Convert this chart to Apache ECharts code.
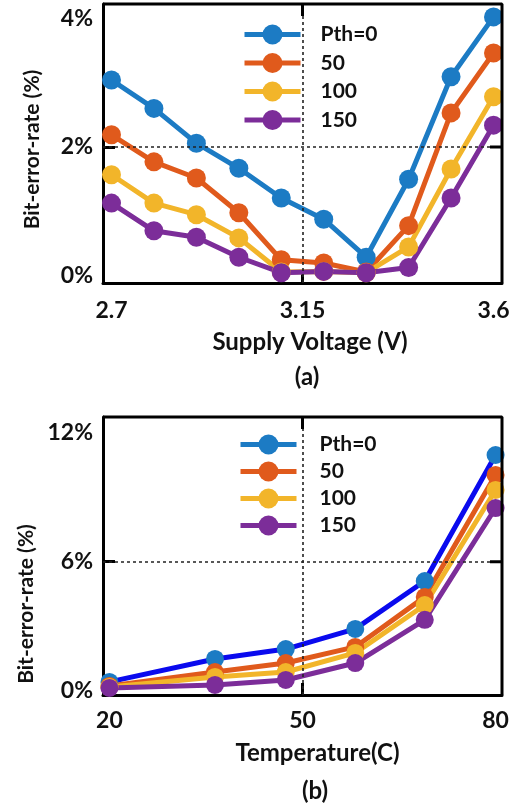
<!DOCTYPE html>
<html>
<head>
<meta charset="utf-8">
<script src="https://cdn.jsdelivr.net/npm/echarts@6/dist/echarts.min.js"></script>
<style>html,body{margin:0;padding:0;background:#fff;overflow:hidden}#c{width:526px;height:808px}</style>
</head>
<body>
<div id="c"></div>
<script>
// ---- data (a): supply voltage ----
const voltage = [2.7, 2.8, 2.9, 3.0, 3.1, 3.2, 3.3, 3.4, 3.5, 3.6];
const berV_0   = [3.04, 2.60, 2.06, 1.67, 1.21, 0.88, 0.29, 1.50, 3.09, 4.02];
const berV_50  = [2.19, 1.77, 1.52, 0.98, 0.25, 0.20, 0.06, 0.78, 2.53, 3.46];
const berV_100 = [1.57, 1.13, 0.95, 0.59, 0.06, 0.07, 0.05, 0.45, 1.66, 2.78];
const berV_150 = [1.13, 0.70, 0.60, 0.29, 0.05, 0.07, 0.05, 0.13, 1.21, 2.34];
const voltTicks = [2.7, 3.15, 3.6];
const berVTicks = [0, 2, 4];
// ---- data (b): temperature ----
const temperature = [20, 36.4, 47.4, 58.2, 69, 80];
const berT_0   = [0.40, 1.47, 1.93, 2.87, 5.10, 10.97];
const berT_50  = [0.21, 0.86, 1.28, 2.03, 4.36, 10.04];
const berT_100 = [0.16, 0.63, 0.86, 1.75, 3.98, 9.34];
const berT_150 = [0.12, 0.26, 0.49, 1.28, 3.29, 8.50];
const tempTicks = [20, 50, 80];
const berTTicks = [0, 6, 12];
const names = ['Pth=0', '50', '100', '150'];

const colors = ['#1c7bc4', '#e05a1c', '#f2b52a', '#7c2d99'];
const FONT = 'Lato';
const lblStyle = () => ({fontFamily: FONT, fontWeight: 'bold', fontSize: 23, color: '#111'});

function zip(xs, ys) { return xs.map((x, i) => [x, ys[i]]); }

const tickStyle = (v) => ({show: true, inside: true, length: 12, customValues: [v], lineStyle: {color: '#000', width: 3}});
const axLine = () => ({show: true, onZero: false, lineStyle: {color: '#000', width: 3}});

// axis ranges and guide positions; inner tick length as a fraction of each axis span
const ranges = [
  {x: [2.68, 3.62], y: [-0.11, 4.22], gx: 3.15, gy: 2, tx: 12 / 399, ty: 12 / 279},
  {x: [19, 81], y: [-0.21, 12.74], gx: 50, gy: 6, tx: 12 / 399, ty: 12 / 278}
];

function xAxis(gi, ticks, name, namePad, margin, nameGap) {
  const r = ranges[gi];
  return {
    type: 'value', gridIndex: gi, min: r.x[0], max: r.x[1], position: 'bottom',
    axisLine: axLine(),
    axisTick: tickStyle(r.gx),
    axisLabel: Object.assign({customValues: ticks, margin: margin}, lblStyle()),
    splitLine: {show: false},
    name: name, nameLocation: 'middle', nameGap: nameGap,
    nameTextStyle: {fontFamily: FONT, fontWeight: 'bold', fontSize: 24, color: '#111', padding: namePad}
  };
}
function yAxis(gi, ticks, namePad) {
  const r = ranges[gi];
  return {
    type: 'value', gridIndex: gi, min: r.y[0], max: r.y[1], position: 'left',
    axisLine: axLine(),
    axisTick: tickStyle(r.gy),
    axisLabel: Object.assign({customValues: ticks, margin: 10, formatter: v => v + '%'}, lblStyle()),
    splitLine: {show: false},
    name: 'Bit-error-rate (%)', nameLocation: 'middle', nameGap: 60,
    nameTextStyle: {fontFamily: FONT, fontWeight: 'bold', fontSize: 21, color: '#111', padding: namePad}
  };
}

function guide(axi) {
  const r = ranges[axi];
  return {
    type: 'line', xAxisIndex: axi, yAxisIndex: axi, data: [], silent: true, z: 1,
    markLine: {
      silent: true, symbol: 'none', label: {show: false},
      lineStyle: {color: '#222', type: [3, 3], width: 1.6},
      data: [{xAxis: r.gx}, {yAxis: r.gy}]
    }
  };
}
// top/right frame edges plus mirrored inner ticks, drawn through the axes' scales
function frameSeries(axi) {
  const r = ranges[axi];
  const base = {type: 'line', xAxisIndex: axi, yAxisIndex: axi, silent: true, clip: false,
    symbol: 'none', z: 5, lineStyle: {color: '#000', width: 3}, emphasis: {disabled: true}};
  const dy = (r.y[1] - r.y[0]) * r.ty, dx = (r.x[1] - r.x[0]) * r.tx;
  return [
    Object.assign({}, base, {data: [[r.x[0], r.y[1]], [r.x[1], r.y[1]], [r.x[1], r.y[0]]]}),
    Object.assign({}, base, {data: [[r.gx, r.y[1]], [r.gx, r.y[1] - dy]]}),
    Object.assign({}, base, {data: [[r.x[1], r.gy], [r.x[1] - dx, r.gy]]})
  ];
}
function ser(name, axi, xs, ys, color, lineColor, size) {
  return {
    name: name, type: 'line', xAxisIndex: axi, yAxisIndex: axi, z: 3,
    data: zip(xs, ys), symbol: 'circle', symbolSize: size,
    lineStyle: {color: lineColor || color, width: 5},
    itemStyle: {color: color}
  };
}

const legendBase = {
  orient: 'vertical', itemWidth: 56, itemHeight: 25,
  data: names, selectedMode: false,
  lineStyle: {width: 5}
};

const option = {
  animation: false,
  backgroundColor: '#fff',
  grid: [
    {left: 103, width: 399, top: 4, height: 279},
    {left: 103, width: 399, top: 417, height: 278}
  ],
  xAxis: [
    xAxis(0, voltTicks, 'Supply Voltage (V)', [0, 0, 0, 15], 16, 47),
    xAxis(1, tempTicks, 'Temperature(C)', [0, 0, 0, 30], 14, 46)
  ],
  yAxis: [
    yAxis(0, berVTicks, [0, 12, 0, 0]),
    yAxis(1, berTTicks, [0, 96, 0, 0])
  ],
  legend: [
    Object.assign({}, legendBase, {left: 237, top: 19, itemGap: 7.5,
      textStyle: {fontFamily: FONT, fontWeight: 'bold', fontSize: 21, color: '#111', padding: [0, 0, 0, 15]}}),
    Object.assign({}, legendBase, {left: 233, top: 429, itemGap: 6,
      textStyle: {fontFamily: FONT, fontWeight: 'bold', fontSize: 21, color: '#111', padding: [0, 0, 0, 18]}})
  ],
  title: [
    {text: '(a)', left: 302, top: 360, textAlign: 'center',
      textStyle: {fontFamily: FONT, fontWeight: 'bold', fontSize: 24, color: '#111'}},
    {text: '(b)', left: 310, top: 774, textAlign: 'center',
      textStyle: {fontFamily: FONT, fontWeight: 'bold', fontSize: 24, color: '#111'}}
  ],
  series: [
    guide(0),
    ...frameSeries(0),
    ser(names[0], 0, voltage, berV_0, colors[0], null, 19),
    ser(names[1], 0, voltage, berV_50, colors[1], null, 19),
    ser(names[2], 0, voltage, berV_100, colors[2], null, 19),
    ser(names[3], 0, voltage, berV_150, colors[3], null, 19),
    guide(1),
    ...frameSeries(1),
    ser(names[0], 1, temperature, berT_0, colors[0], '#0a0aee', 18),
    ser(names[1], 1, temperature, berT_50, colors[1], null, 18),
    ser(names[2], 1, temperature, berT_100, colors[2], null, 18),
    ser(names[3], 1, temperature, berT_150, colors[3], null, 18)
  ]
};
const chart = echarts.init(document.getElementById('c'), null, {renderer: 'canvas'});
chart.setOption(option);
</script>
</body>
</html>
